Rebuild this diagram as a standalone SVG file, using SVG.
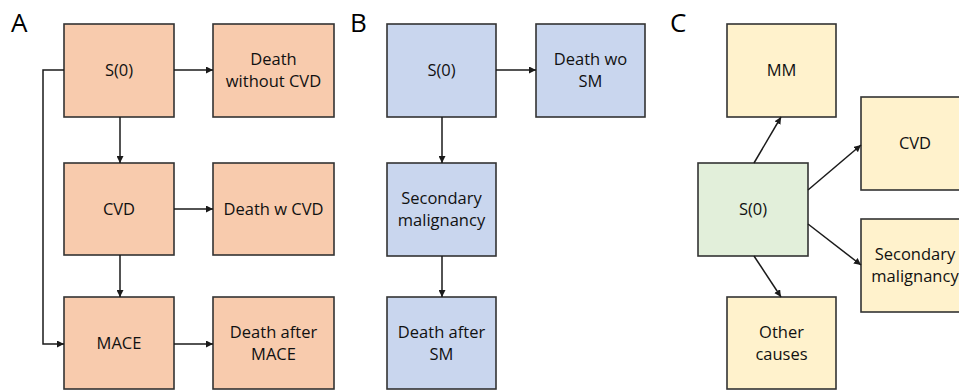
<svg xmlns="http://www.w3.org/2000/svg" width="959" height="390" viewBox="0 0 959 390">
<defs>
<marker id="ah" viewBox="0 0 10 10" refX="10" refY="5" markerWidth="7" markerHeight="7" markerUnits="userSpaceOnUse" orient="auto">
<path d="M0,0 L10,5 L0,10 z" fill="#1a1a1a"/>
</marker>
<style>
.box{stroke:#333;stroke-width:1.6}
.o{fill:#F8CBAD}.b{fill:#C9D6EE}.g{fill:#E2EFDA}.y{fill:#FFF2CC}
text{font-family:"Open Sans","Liberation Sans",sans-serif;font-size:16.5px;fill:#111;text-anchor:middle}
.lbl{font-size:26px;text-anchor:start;fill:#000}
.c{fill:none;stroke:#1a1a1a;stroke-width:1.5;marker-end:url(#ah)}
</style>
</defs>
<rect width="959" height="390" fill="#fff"/>
<text class="lbl" x="11" y="32">A</text>
<text class="lbl" x="350" y="32">B</text>
<text class="lbl" x="670" y="32">C</text>

<g id="A_S0"><rect class="box o" x="64" y="24" width="110" height="93"/><text x="119" y="76">S(0)</text></g>
<g id="A_DeathNoCVD"><rect class="box o" x="213" y="24" width="121" height="93"/><text x="273.5" y="65">Death</text><text x="273.5" y="87">without CVD</text></g>
<g id="A_CVD"><rect class="box o" x="64" y="163" width="110" height="92"/><text x="119" y="215">CVD</text></g>
<g id="A_DeathCVD"><rect class="box o" x="213" y="163" width="121" height="92"/><text x="273.5" y="215">Death w CVD</text></g>
<g id="A_MACE"><rect class="box o" x="64" y="297" width="110" height="92"/><text x="119" y="349">MACE</text></g>
<g id="A_DeathMACE"><rect class="box o" x="213" y="297" width="121" height="92"/><text x="273.5" y="338">Death after</text><text x="273.5" y="360">MACE</text></g>

<g id="B_S0"><rect class="box b" x="387" y="24" width="109" height="93"/><text x="441.5" y="76">S(0)</text></g>
<g id="B_DeathNoSM"><rect class="box b" x="536" y="24" width="109" height="93"/><text x="590.5" y="65">Death wo</text><text x="590.5" y="87">SM</text></g>
<g id="B_SM"><rect class="box b" x="387" y="163" width="109" height="93"/><text x="441.5" y="204">Secondary</text><text x="441.5" y="226">malignancy</text></g>
<g id="B_DeathSM"><rect class="box b" x="387" y="297" width="109" height="92"/><text x="441.5" y="338">Death after</text><text x="441.5" y="360">SM</text></g>

<g id="C_MM"><rect class="box y" x="727" y="24" width="109" height="93"/><text x="781.5" y="76">MM</text></g>
<g id="C_S0"><rect class="box g" x="698" y="163" width="110" height="93"/><text x="753" y="215">S(0)</text></g>
<g id="C_CVD"><rect class="box y" x="861" y="97" width="110" height="93"/><text x="915" y="149">CVD</text></g>
<g id="C_SM"><rect class="box y" x="861" y="219" width="110" height="93"/><text x="915" y="260">Secondary</text><text x="915" y="282">malignancy</text></g>
<g id="C_Other"><rect class="box y" x="727" y="297" width="109" height="92"/><text x="781.5" y="338">Other</text><text x="781.5" y="360">causes</text></g>

<g id="connectors">
<line class="c" x1="174" y1="70" x2="213" y2="70"/>
<line class="c" x1="120" y1="117" x2="120" y2="163"/>
<line class="c" x1="174" y1="209" x2="213" y2="209"/>
<line class="c" x1="120" y1="255" x2="120" y2="297"/>
<line class="c" x1="174" y1="344" x2="213" y2="344"/>
<polyline class="c" points="64,70 43,70 43,344 64,344"/>
<line class="c" x1="496" y1="70" x2="536" y2="70"/>
<line class="c" x1="442" y1="117" x2="442" y2="163"/>
<line class="c" x1="442" y1="256" x2="442" y2="297"/>
<line class="c" x1="754" y1="163" x2="781" y2="117"/>
<line class="c" x1="808" y1="190" x2="861" y2="145"/>
<line class="c" x1="808" y1="224" x2="861" y2="265"/>
<line class="c" x1="754" y1="256" x2="781" y2="297"/>
</g>
</svg>
